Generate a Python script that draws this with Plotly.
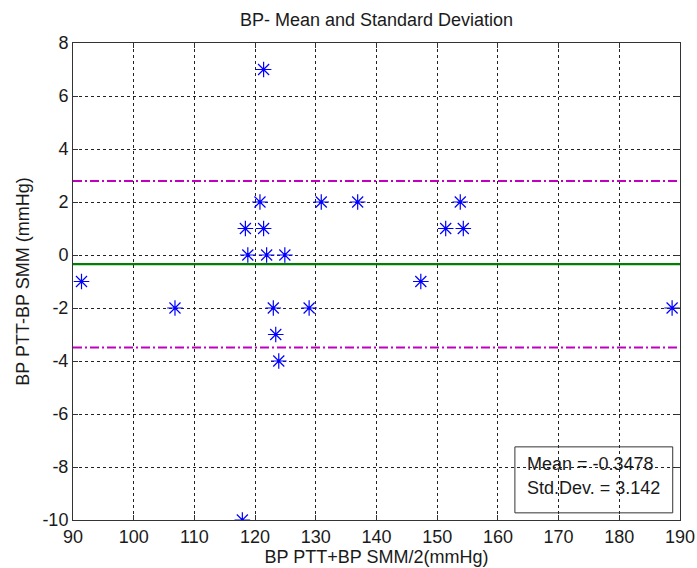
import plotly.graph_objects as go

# Data
x_vals = [91.4, 106.8, 117.9, 118.4, 118.8, 120.8, 121.4, 121.4, 121.9, 123.0,
          123.4, 123.9, 124.9, 128.9, 130.9, 136.9, 147.3, 151.4, 153.8, 154.3, 188.7]
y_vals = [-1, -2, -10, 1, 0, 2, 7, 1, 0, -2,
          -3, -4, 0, -2, 2, 2, -1, 1, 2, 1, -2]
mean_val = -0.3478
std_val = 3.142
x_range = [90, 190]
y_range = [-10, 8]
x_ticks = [90, 100, 110, 120, 130, 140, 150, 160, 170, 180, 190]
y_ticks = [-10, -8, -6, -4, -2, 0, 2, 4, 6, 8]

font_family = "Liberation Sans, Arial, sans-serif"
txt_color = "#1a1a1a"
fsize = 18

fig = go.Figure()

fig.add_trace(go.Scatter(
    x=x_range, y=[mean_val + std_val] * 2, mode="lines",
    line=dict(color="#bf00bf", width=2, dash="9px,3px,2px,3px"), showlegend=False, hoverinfo="skip"))
fig.add_trace(go.Scatter(
    x=x_range, y=[mean_val - std_val] * 2, mode="lines",
    line=dict(color="#bf00bf", width=2, dash="9px,3px,2px,3px"), showlegend=False, hoverinfo="skip"))
fig.add_trace(go.Scatter(
    x=x_range, y=[mean_val] * 2, mode="lines",
    line=dict(color="#008000", width=2.2), showlegend=False, hoverinfo="skip"))
fig.add_trace(go.Scatter(
    x=x_vals, y=y_vals, mode="markers",
    marker=dict(symbol="asterisk-open", size=13, color="blue",
                line=dict(color="blue", width=1.2)),
    showlegend=False))

axis_common = dict(
    showline=True, linecolor="#333333", linewidth=1, mirror="ticks",
    ticks="inside", ticklen=5, tickcolor="#333333",
    showgrid=True, gridcolor="#222222", gridwidth=1, griddash="3px,3px",
    zeroline=False, automargin=False,
    tickfont=dict(family=font_family, size=fsize, color=txt_color),
)

fig.update_xaxes(range=x_range, tickvals=x_ticks, ticktext=[str(v) for v in x_ticks],
                 title=dict(text="BP PTT+BP SMM/2(mmHg)", standoff=4,
                            font=dict(family=font_family, size=fsize, color=txt_color)),
                 **axis_common)
fig.update_yaxes(range=y_range, tickvals=y_ticks, ticktext=[str(v) for v in y_ticks],
                 title=dict(text="BP PTT-BP SMM (mmHg)", standoff=8,
                            font=dict(family=font_family, size=fsize, color=txt_color)),
                 **axis_common)

# Text box with statistics
fig.add_shape(type="rect", xref="x", yref="y",
              x0=162.8, x1=188.8, y0=-9.73, y1=-7.24,
              line=dict(color="#333333", width=1), fillcolor="rgba(0,0,0,0)", layer="above")
fig.add_annotation(xref="x", yref="y", x=164.5, y=-7.88, xanchor="left", yanchor="middle",
                   text="Mean = %.4f" % mean_val, showarrow=False,
                   font=dict(family=font_family, size=fsize, color=txt_color))
fig.add_annotation(xref="x", yref="y", x=164.5, y=-8.78, xanchor="left", yanchor="middle",
                   text="Std.Dev. = %.3f" % std_val, showarrow=False,
                   font=dict(family=font_family, size=fsize, color=txt_color))

fig.update_layout(
    width=697, height=568,
    margin=dict(l=73, r=17, t=43, b=48),
    paper_bgcolor="white", plot_bgcolor="white",
    title=dict(text="BP- Mean and Standard Deviation", x=(73 + 680) / 2 / 697, xanchor="center",
               y=1 - 20 / 568, yanchor="middle",
               font=dict(family=font_family, size=fsize, color=txt_color)),
)

fig.write_html("out.html", config={"displayModeBar": False},
               post_script="document.body.style.margin='0';")
